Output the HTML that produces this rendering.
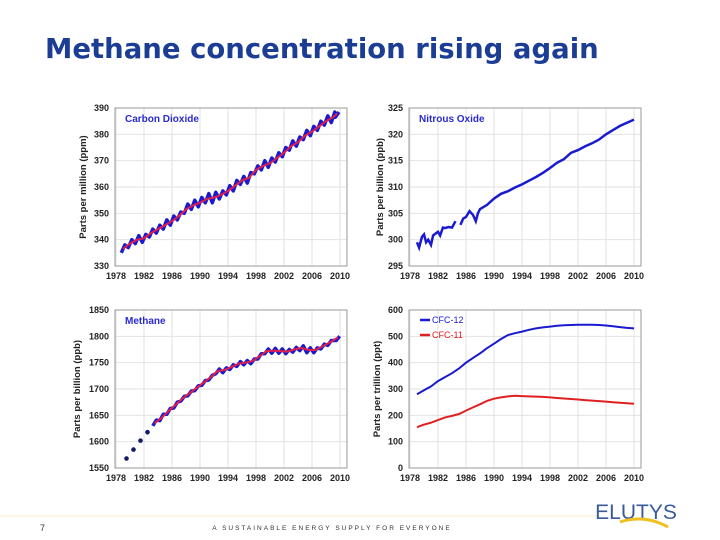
<!DOCTYPE html>
<html><head><meta charset="utf-8">
<style>
html,body{margin:0;padding:0;background:#fff;}
body{width:720px;height:540px;overflow:hidden;position:relative;font-family:"Liberation Sans",Arial,sans-serif;}
#title{position:absolute;left:45px;top:33px;font-family:"DejaVu Sans",sans-serif;font-size:27.5px;font-weight:bold;color:#1c3d94;white-space:nowrap;}
svg text{font-family:"Liberation Sans",Arial,sans-serif;}
</style></head>
<body>
<div id="title">Methane concentration rising again</div>
<svg id="c" width="720" height="540" style="position:absolute;left:0;top:0">
  <line x1="0" y1="516" x2="600" y2="516" stroke="#f3ecc8" stroke-width="1"/>
  <text x="40" y="531" font-size="9" fill="#333">7</text>
  <text x="332" y="530" font-size="6.5" fill="#333" text-anchor="middle" letter-spacing="2">A SUSTAINABLE ENERGY SUPPLY FOR EVERYONE</text>
  <text x="636" y="519" font-size="21" fill="#3a5a9a" text-anchor="middle" letter-spacing="0">ELUTYS</text>
  <path d="M620 522 Q645 514 668 527" stroke="#f0c020" stroke-width="3" fill="none"/>
</svg>
<script>
// ---- data ----
const years = [1978,1982,1986,1990,1994,1998,2002,2006,2010];
const co2Ticks = [330,340,350,360,370,380,390];
const n2oTicks = [295,300,305,310,315,320,325];
const ch4Ticks = [1550,1600,1650,1700,1750,1800,1850];
const cfcTicks = [0,100,200,300,400,500,600];

const co2Years = [1979,1980,1981,1982,1983,1984,1985,1986,1987,1988,1989,1990,1991,1992,1993,1994,1995,1996,1997,1998,1999,2000,2001,2002,2003,2004,2005,2006,2007,2008,2009,2009.6];
const co2Trend = [336.5,338.5,340,340.5,342.5,344,345.5,347,349,351.5,353,354,355.5,356,357,358.5,360.5,362.5,363.5,366.5,368,369,371,373,375.5,377,379.5,381,383,385,386.5,388];
const co2High  = [338,340,341.5,342,344,345.5,347.5,349,350.5,353.5,355,356,357.5,358,358.5,360.5,362.5,364,365.5,368,370,371,373,375,377.5,379,381.5,383,385,387,388.5,388.5];
const co2Low   = [335,337,338.5,339,341,342.5,344,345.5,347.5,350,351.5,352.5,354,354,355.5,357,358.5,361,361.5,365,366.5,367.5,369.5,371.5,374,375.5,378,379.5,381.5,383.5,384.5,386.5];

const n2oYears = [1979,1979.3,1979.7,1980,1980.3,1980.6,1981,1981.3,1981.7,1982,1982.3,1982.7,1983,1983.5,1984,1984.5,null,1985.2,1985.6,1986,1986.5,1987,1987.4,1987.7,1988,1989,1990,1991,1992,1993,1994,1995,1996,1997,1998,1999,2000,2001,2002,2003,2004,2005,2006,2007,2008,2009,2010];
const n2oVals  = [299.5,298.5,300.5,301,299.5,300,299,300.8,301.2,301.5,300.8,302.3,302.2,302.4,302.3,303.5,null,302.8,304,304.3,305.4,304.7,303.5,305,305.8,306.6,307.8,308.7,309.2,309.9,310.5,311.2,311.9,312.7,313.6,314.6,315.3,316.5,317,317.7,318.3,319,320,320.8,321.6,322.2,322.8];

const ch4DotYears = [1979.5,1980.5,1981.5,1982.5];
const ch4DotVals  = [1568,1585,1602,1618];
const ch4Years = [1983.5,1984.5,1985.5,1986.5,1987.5,1988.5,1989.5,1990.5,1991.5,1992.5,1993.5,1994.5,1995.5,1996.5,1997.5,1998.5,1999.5,2000.5,2001.5,2002.5,2003.5,2004.5,2005.5,2006.5,2007.5,2008.5,2009.7];
const ch4Trend = [1635,1645,1658,1670,1682,1692,1702,1712,1722,1734,1736,1742,1748,1750,1753,1762,1772,1773,1772,1771,1775,1778,1774,1774,1781,1788,1798];
const ch4High  = [1641,1652,1663,1675,1686,1696,1706,1716,1726,1738,1740,1746,1752,1754,1757,1767,1776,1777,1776,1775,1779,1782,1778,1778,1785,1792,1800];
const ch4Low   = [1630,1640,1652,1664,1677,1687,1697,1707,1717,1729,1731,1737,1743,1746,1748,1757,1767,1768,1768,1767,1770,1773,1769,1769,1776,1783,1792];

const cfcYears = [1979,1980,1981,1982,1983,1984,1985,1986,1987,1988,1989,1990,1991,1992,1993,1994,1995,1996,1997,1998,1999,2000,2001,2002,2003,2004,2005,2006,2007,2008,2009,2010];
const cfc12 = [280,295,310,330,345,360,378,400,418,435,455,472,490,505,512,518,525,530,534,537,540,542,543,544,544,544,543,541,538,535,532,530];
const cfc11 = [155,165,172,182,192,198,205,218,230,242,255,263,268,272,274,273,272,271,270,268,266,264,262,260,258,256,254,252,250,248,246,244];

const NS='http://www.w3.org/2000/svg';
const svg=document.getElementById('c');
function mk(tag,attrs,parent){const e=document.createElementNS(NS,tag);for(const k in attrs)e.setAttribute(k,attrs[k]);(parent||svg).appendChild(e);return e;}

function panel(o){
  const g=mk('g',{});
  
  
  const L=o.x,R=o.x+232,T=o.y,B=o.y+158;
  const xs=v=>L+1+(v-1978)*(224/32);
  const ys=v=>B-(v-o.ticks[0])/(o.ticks[o.ticks.length-1]-o.ticks[0])*(B-T);
  const bg=mk('rect',{x:L,y:T,width:R-L,height:B-T,fill:'#fff',stroke:'#999','stroke-width':1},g);
  
  
  years.forEach(y=>{
    const gl=mk('line',{x1:xs(y),x2:xs(y),y1:T,y2:B,stroke:'#e2e2e2','stroke-width':1},g);
    
    
    const t=mk('text',{x:xs(y),y:B+13,'font-size':9,'font-weight':'bold','text-anchor':'middle',fill:'#222'},g);
    t.textContent=y;
    
    
  });
  o.ticks.forEach(v=>{
    const gl=mk('line',{x1:L,x2:R,y1:ys(v),y2:ys(v),stroke:'#e2e2e2','stroke-width':1},g);
    
    
    const t=mk('text',{x:L-6,y:ys(v)+3,'font-size':9,'font-weight':'bold','text-anchor':'end',fill:'#222'},g);
    t.textContent=v;
    
    
  });
  mk('rect',{x:L,y:T,width:R-L,height:B-T,fill:'none',stroke:'#999','stroke-width':1},g);
  const at=mk('text',{transform:`translate(${o.ax},${(T+B)/2}) rotate(-90)`,'font-size':9.5,'font-weight':'bold','text-anchor':'middle',fill:'#222'},g);
  at.textContent=o.axis;
  
  
  if(o.label){
    const lt=mk('text',{x:L+10,y:T+14,'font-size':10,'font-weight':'bold',fill:'#2a2ad0'},g);
    lt.textContent=o.label;
    
    
  }
  return {g,xs,ys};
}
function path(xsArr,vals,xs,ys){let d='',pen=false;xsArr.forEach((x,i)=>{if(x===null||vals[i]===null){pen=false;return;}d+=(pen?'L':'M')+xs(x).toFixed(1)+' '+ys(vals[i]).toFixed(1)+' ';pen=true;});return d;}
function zig(xsArr,hi,lo,xs,ys){let d='';xsArr.forEach((x,i)=>{d+=(i?'L':'M')+xs(x-0.25).toFixed(1)+' '+ys(lo[i]).toFixed(1)+' L'+xs(x+0.25).toFixed(1)+' '+ys(hi[i]).toFixed(1)+' ';});return d;}

// CO2
let p=panel({name:'co2-chart',x:115,y:108,ticks:co2Ticks,axis:'Parts per million (ppm)',ax:86,label:'Carbon Dioxide'});
let e=mk('path',{d:zig(co2Years,co2High,co2Low,p.xs,p.ys),stroke:'#1a1ad0','stroke-width':3.5,fill:'none','stroke-linejoin':'round'},p.g);


e=mk('path',{d:path(co2Years,co2Trend,p.xs,p.ys),stroke:'#e0204a','stroke-width':2,fill:'none'},p.g);



// N2O
p=panel({name:'n2o-chart',x:409,y:108,ticks:n2oTicks,axis:'Parts per billion (ppb)',ax:383,label:'Nitrous Oxide'});
e=mk('path',{d:path(n2oYears,n2oVals,p.xs,p.ys),stroke:'#1a1ad0','stroke-width':2.5,fill:'none'},p.g);



// CH4
p=panel({name:'methane-chart',x:115,y:310,ticks:ch4Ticks,axis:'Parts per billion (ppb)',ax:80,label:'Methane'});
ch4DotYears.forEach((x,i)=>{
  const c=mk('circle',{cx:p.xs(x),cy:p.ys(ch4DotVals[i]),r:2.3,fill:'#111a66'},p.g);
  
  
});
e=mk('path',{d:zig(ch4Years,ch4High,ch4Low,p.xs,p.ys),stroke:'#1a1ad0','stroke-width':3.5,fill:'none','stroke-linejoin':'round'},p.g);


e=mk('path',{d:path(ch4Years,ch4Trend,p.xs,p.ys),stroke:'#e0204a','stroke-width':2,fill:'none'},p.g);



// CFC
p=panel({name:'cfc-chart',x:409,y:310,ticks:cfcTicks,axis:'Parts per trillion (ppt)',ax:380,label:null});
e=mk('path',{d:path(cfcYears,cfc12,p.xs,p.ys),stroke:'#1a1ad0','stroke-width':2,fill:'none'},p.g);


e=mk('path',{d:path(cfcYears,cfc11,p.xs,p.ys),stroke:'#e02020','stroke-width':2,fill:'none'},p.g);


[['CFC-12','#1a1ad0',320],['CFC-11','#e02020',335]].forEach(l=>{
  const lg=mk('g',{},p.g);
  
  
  mk('line',{x1:420,x2:430,y1:l[2],y2:l[2],stroke:l[1],'stroke-width':2.5},lg);
  const t=mk('text',{x:432,y:l[2]+3,'font-size':9,fill:l[1]},lg);
  t.textContent=l[0];
});
</script>
</body></html>
